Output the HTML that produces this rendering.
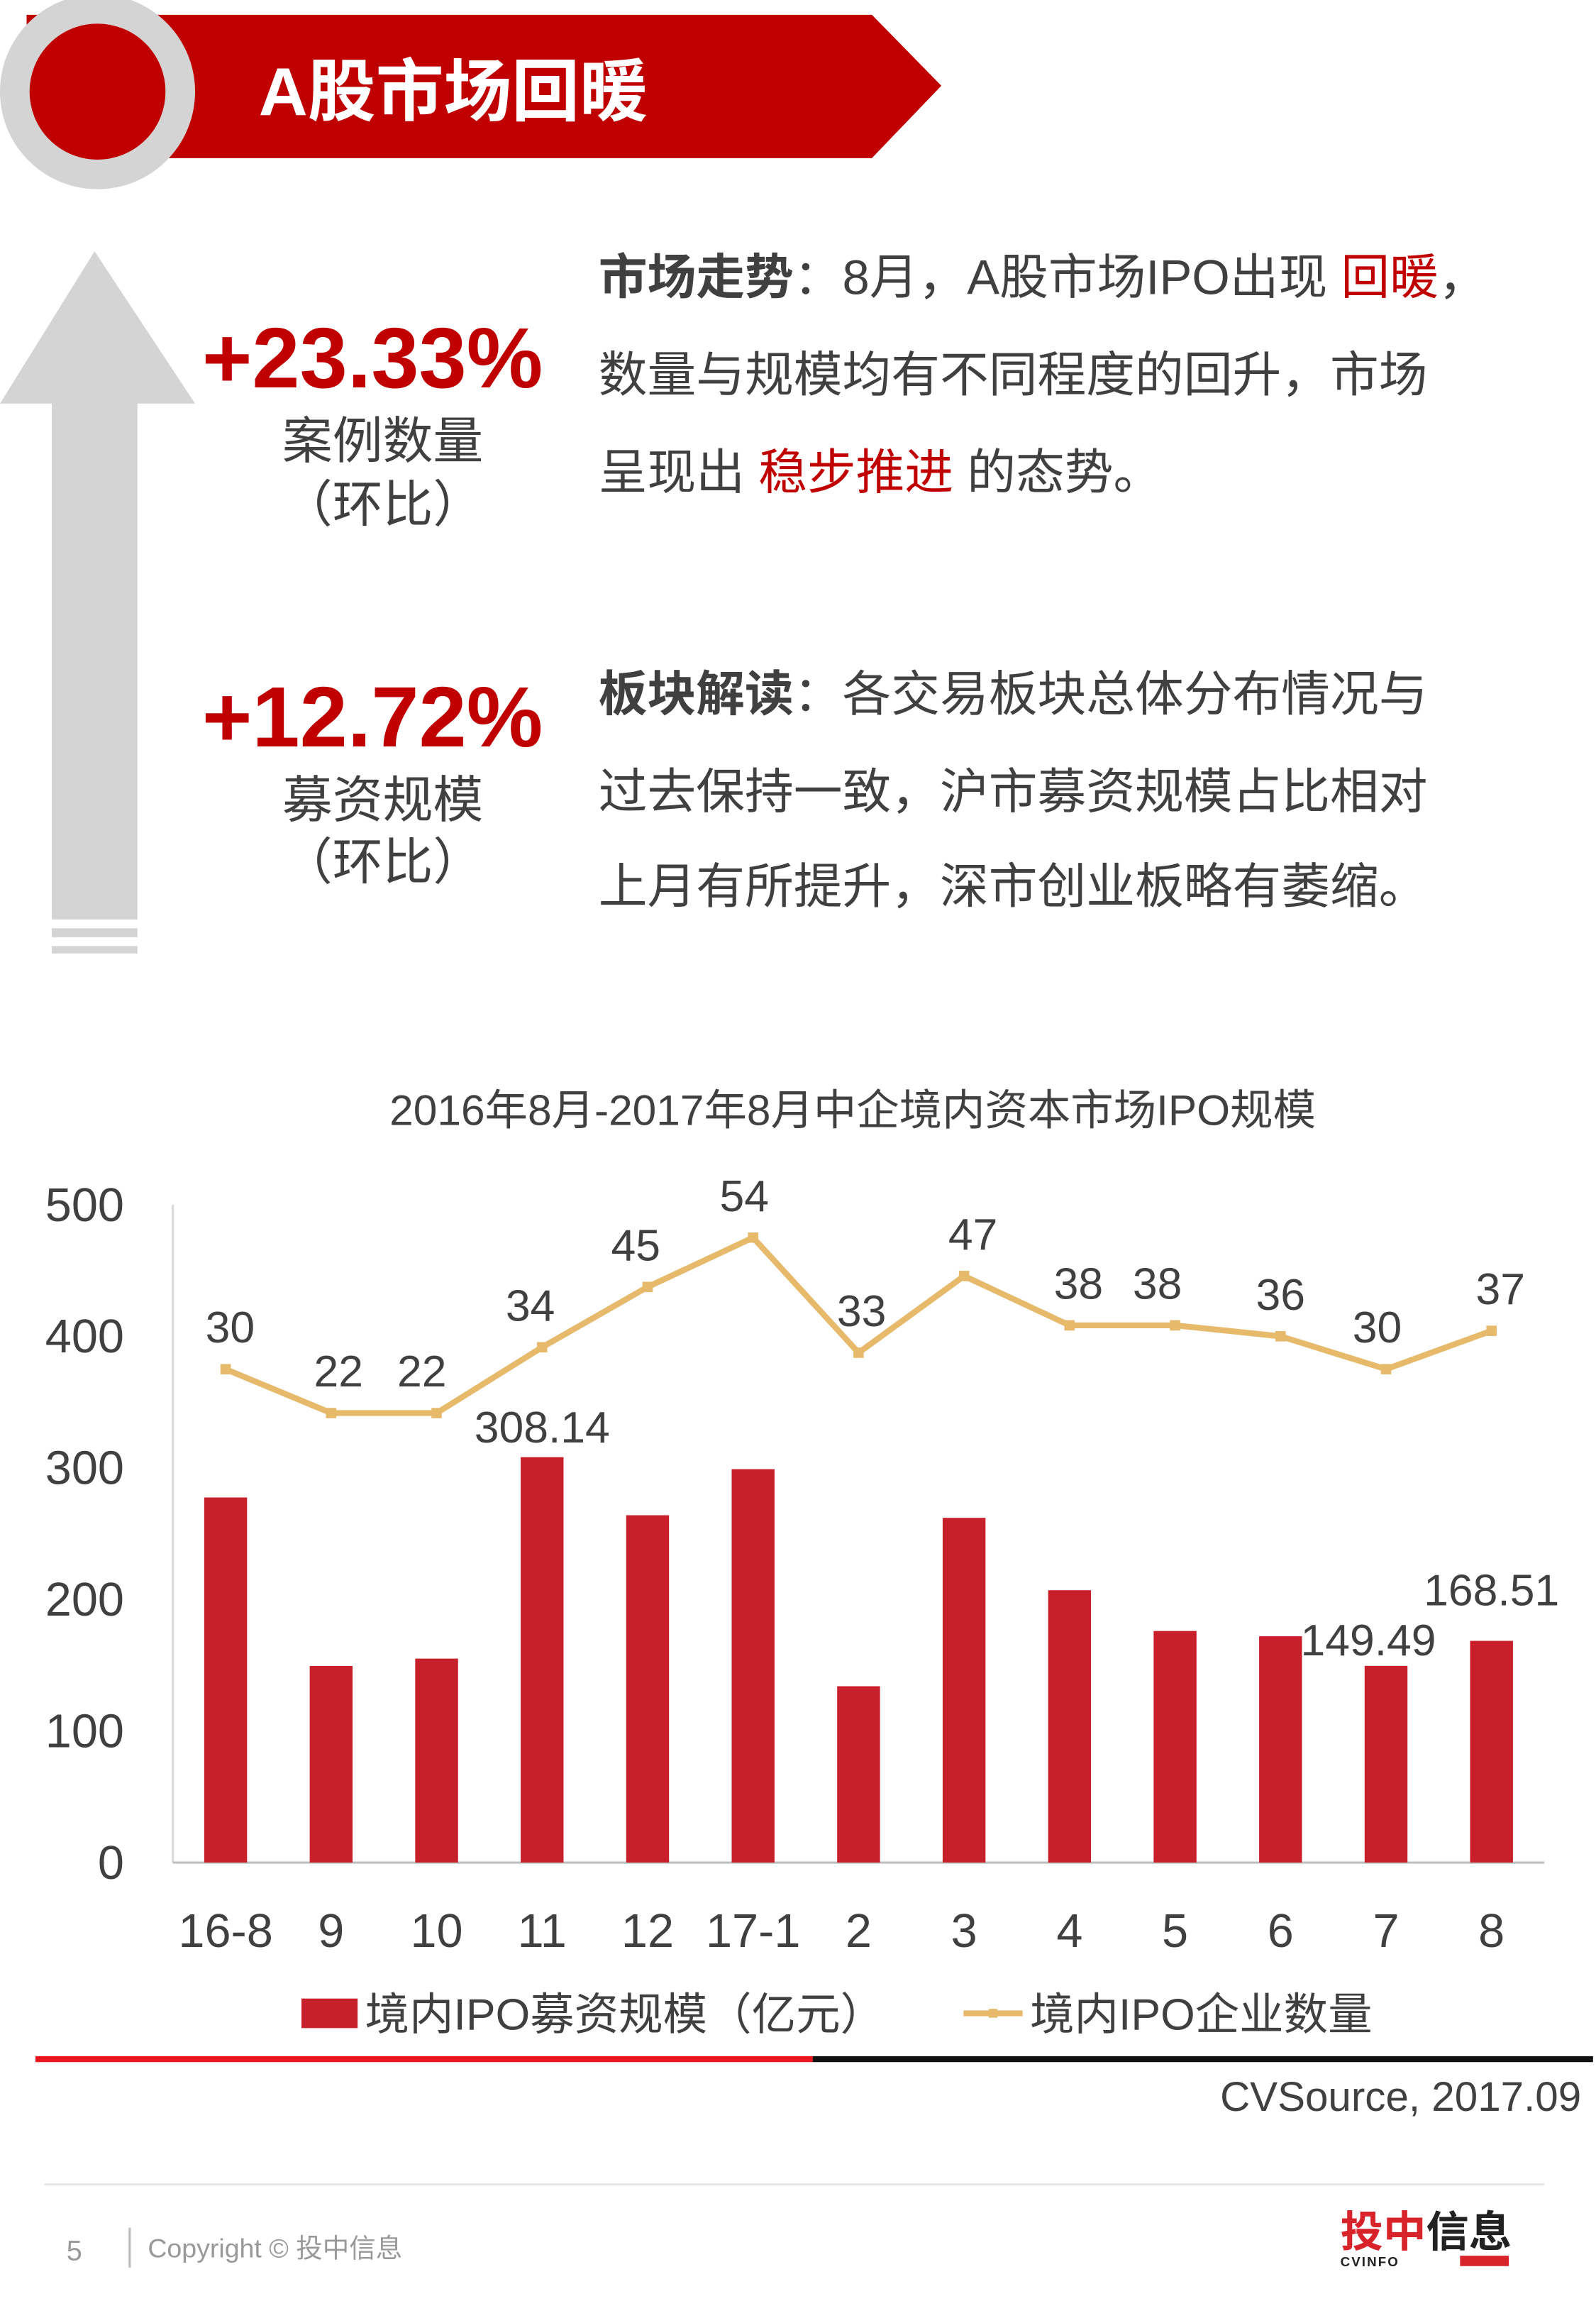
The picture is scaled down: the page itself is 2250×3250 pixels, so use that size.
<!DOCTYPE html>
<html><head><meta charset="utf-8">
<style>
html,body{margin:0;padding:0;background:#fff;}
svg{display:block;}
text{font-family:"Liberation Sans","Noto Sans CJK SC",sans-serif;}
</style></head>
<body>
<svg id="page" width="2250" height="3250" viewBox="0 0 1080 1560" preserveAspectRatio="none" xmlns="http://www.w3.org/2000/svg">
  <g>
    <polygon points="18,10 590,10 637,58 590,107 18,107" fill="#c00000"/>
    <circle cx="66" cy="62" r="56" fill="#c00000" stroke="#d4d4d4" stroke-width="20"/>
    <text x="175" y="78" font-size="46" font-weight="bold" fill="#fff" font-family="Liberation Sans,Noto Sans CJK SC,sans-serif">A股市场回暖</text>
  </g>
  <g fill="#d4d4d4">
    <polygon points="64,170 132,273 93,273 93,622 35,622 35,273 0,273"/>
    <rect x="35" y="628" width="58" height="6"/>
    <rect x="35" y="640" width="58" height="5"/>
  </g>
  <g>
    <text x="252" y="262" font-size="58" font-weight="bold" fill="#c00000" text-anchor="middle">+23.33%</text>
    <text x="259" y="310" font-size="34" fill="#404040" text-anchor="middle">案例数量</text>
    <text x="259" y="353" font-size="34" fill="#404040" text-anchor="middle">（环比）</text>
  </g>
  <g>
    <text x="252" y="505" font-size="58" font-weight="bold" fill="#c00000" text-anchor="middle">+12.72%</text>
    <text x="259" y="553" font-size="34" fill="#404040" text-anchor="middle">募资规模</text>
    <text x="259" y="595" font-size="34" fill="#404040" text-anchor="middle">（环比）</text>
  </g>
  <g font-size="33" fill="#404040">
    <text x="405" y="199"><tspan font-weight="bold">市场走势</tspan>：8月，A股市场IPO出现 <tspan fill="#c00000">回暖</tspan>，</text>
    <text x="405" y="265">数量与规模均有不同程度的回升，市场</text>
    <text x="405" y="331">呈现出 <tspan fill="#c00000">稳步推进</tspan> 的态势。</text>
  </g>
  <g font-size="33" fill="#404040">
    <text x="405" y="481"><tspan font-weight="bold">板块解读</tspan>：各交易板块总体分布情况与</text>
    <text x="405" y="547">过去保持一致，沪市募资规模占比相对</text>
    <text x="405" y="611">上月有所提升，深市创业板略有萎缩。</text>
  </g>
  <text x="577" y="761" font-size="29" fill="#404040" text-anchor="middle">2016年8月-2017年8月中企境内资本市场IPO规模</text>
  <g id="chart"></g>
  <g>
    <rect x="204" y="1352" width="38" height="20" fill="#c8202b"/>
    <text x="247" y="1373" font-size="30" fill="#404040">境内IPO募资规模（亿元）</text>
    <line x1="652" y1="1362" x2="692" y2="1362" stroke="#e6b96b" stroke-width="4"/>
    <rect x="669" y="1359" width="6" height="6" fill="#e6b96b"/>
    <text x="697" y="1373" font-size="30" fill="#404040">境内IPO企业数量</text>
  </g>
  <rect x="24" y="1391" width="526" height="4" fill="#e8161e"/>
  <rect x="550" y="1391" width="528" height="4" fill="#111"/>
  <text x="1070" y="1428" font-size="28" fill="#404040" text-anchor="end">CVSource, 2017.09</text>
  <rect x="30" y="1477" width="1015" height="1.5" fill="#e6e6e6"/>
  <text x="45" y="1529" font-size="19" fill="#999">5</text>
  <rect x="87" y="1507" width="1.5" height="27" fill="#bbb"/>
  <text x="100" y="1527" font-size="18" fill="#999">Copyright © 投中信息</text>
  <g>
    <text x="907" y="1520" font-size="29" font-weight="bold" fill="#d9232a">投中<tspan fill="#222">信息</tspan></text>
    <text x="907" y="1533" font-size="9" font-weight="bold" fill="#222" letter-spacing="1">CVINFO</text>
    <rect x="988" y="1526" width="33" height="7" fill="#d9232a"/>
  </g>
</svg>
<script>
const categories = ["16-8","9","10","11","12","17-1","2","3","4","5","6","7","8"];
const amountValues = [277.5,149.4,155,308.14,264,299,134,262,207,176,172,149.49,168.51];
const amountLabels = ["","","","308.14","","","","","","","","149.49","168.51"];
const countValues = [30,22,22,34,45,54,33,47,38,38,36,30,37];
const yTicks = [0,100,200,300,400,500];

const NS = "http://www.w3.org/2000/svg";
const chart = document.getElementById("chart");
const X0 = 117, X1 = 1045, Y0 = 1260, Y1 = 815;
const band = (X1 - X0) / categories.length;
const xc = i => X0 + band * (i + 0.5);
const yL = v => Y0 - (v / 500) * (Y0 - Y1);
const yR = c => Y0 - ((c + 60) / 120) * (Y0 - Y1);
const labelDx = [3,5,-10,-8,-8,-6,2,6,6,-12,0,-6,6];
function mk(tag, attrs, txt) {
  const e = document.createElementNS(NS, tag);
  for (const k in attrs) e.setAttribute(k, attrs[k]);
  if (txt !== undefined) e.textContent = txt;
  chart.appendChild(e);
  return e;
}
let ax = mk("line", {x1: X0, y1: Y1, x2: X0, y2: Y0, stroke: "#d9d9d9", "stroke-width": 1.5});


let bx = mk("line", {x1: X0, y1: Y0, x2: X1, y2: Y0, stroke: "#bfbfbf", "stroke-width": 1.5});


yTicks.forEach(t => {
  const e = mk("text", {x: 84, y: yL(t) + 11, "font-size": 32, fill: "#404040", "text-anchor": "end"}, String(t));
  
  
});
categories.forEach((c, i) => {
  const e = mk("text", {x: xc(i), y: 1317, "font-size": 32, fill: "#404040", "text-anchor": "middle"}, c);
  
  
});
amountValues.forEach((v, i) => {
  const b = mk("rect", {x: xc(i) - 14.5, y: yL(v), width: 29, height: Y0 - yL(v), fill: "#c8202b"});
  
  
  if (amountLabels[i]) {
    let off = 0, dy = -10;
    if (i === 11) { off = -12; dy = -7; }
    if (i === 12) { off = 0; dy = -24; }
    const t = mk("text", {x: xc(i) + off, y: yL(v) + dy, "font-size": 30, fill: "#404040", "text-anchor": "middle"}, amountLabels[i]);
    
    
  }
});
const pts = countValues.map((c, i) => xc(i) + "," + yR(c)).join(" ");
const pl = mk("polyline", {points: pts, fill: "none", stroke: "#e6b96b", "stroke-width": 4, "stroke-linejoin": "round"});


countValues.forEach((c, i) => {
  const m = mk("rect", {x: xc(i) - 3.5, y: yR(c) - 3.5, width: 7, height: 7, fill: "#e6b96b"});
  
  
  const t = mk("text", {x: xc(i) + labelDx[i], y: yR(c) - 18, "font-size": 30, fill: "#404040", "text-anchor": "middle"}, String(c));
  
  
});
</script>
</body></html>
